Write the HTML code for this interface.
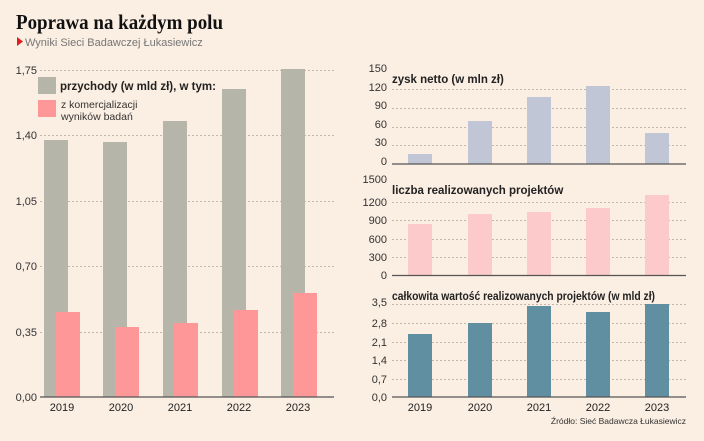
<!DOCTYPE html>
<html><head><meta charset="utf-8"><style>
body{margin:0;background:#fbeee2;}
svg{display:block;font-family:"Liberation Sans",sans-serif;}
</style></head><body>
<svg width="704" height="441" viewBox="0 0 704 441" xmlns="http://www.w3.org/2000/svg">
<rect width="704" height="441" fill="#fbeee2"/>
<text x="16" y="29" font-family="Liberation Serif,serif" font-weight="bold" font-size="21" fill="#111" textLength="207" lengthAdjust="spacingAndGlyphs">Poprawa na każdym polu</text>
<polygon points="17,37 17,46 23,41.5" fill="#e01e1e"/>
<text x="25" y="46" font-size="11" fill="#777">Wyniki Sieci Badawczej Łukasiewicz</text>

<g stroke="#c4b8ae" stroke-dasharray="2,2" stroke-width="1">
<line x1="40" y1="70.5" x2="334" y2="70.5"/><line x1="40" y1="135.5" x2="334" y2="135.5"/>
<line x1="40" y1="201.5" x2="334" y2="201.5"/><line x1="40" y1="266.5" x2="334" y2="266.5"/>
<line x1="40" y1="332.5" x2="334" y2="332.5"/>
</g>
<g font-size="11" fill="#333" text-anchor="end">
<text x="37" y="74">1,75</text><text x="37" y="139">1,40</text><text x="37" y="205">1,05</text>
<text x="37" y="270">0,70</text><text x="37" y="336">0,35</text><text x="37" y="401">0,00</text>
</g>
<g fill="#b6b5aa">
<rect x="44" y="140" width="24" height="257"/><rect x="103" y="142" width="24" height="255"/>
<rect x="163" y="121" width="24" height="276"/><rect x="222" y="89" width="24" height="308"/>
<rect x="281" y="69" width="24" height="328"/>
</g>
<g fill="#fe9797">
<rect x="56" y="312" width="24" height="85"/><rect x="115" y="327" width="24" height="70"/>
<rect x="174" y="323" width="24" height="74"/><rect x="234" y="310" width="24" height="87"/>
<rect x="293" y="293" width="24" height="104"/>
</g>
<line x1="40" y1="397" x2="334" y2="397" stroke="#555" stroke-width="1.2"/>
<g font-size="11" fill="#222" text-anchor="middle">
<text x="62" y="411">2019</text><text x="121" y="411">2020</text><text x="180" y="411">2021</text><text x="239" y="411">2022</text><text x="298" y="411">2023</text>
</g>
<rect x="38" y="77" width="18" height="17" fill="#b6b5aa"/>
<text x="60" y="90" font-size="11.5" font-weight="bold" fill="#222">przychody (w mld zł), w tym:</text>
<rect x="38" y="100" width="18" height="17" fill="#fe9797"/>
<text x="61" y="108" font-size="10.5" fill="#333">z komercjalizacji</text>
<text x="61" y="120" font-size="10.5" fill="#333">wyników badań</text>

<g stroke="#c4b8ae" stroke-dasharray="2,2" stroke-width="1">
<line x1="392" y1="89.5" x2="686" y2="89.5"/><line x1="392" y1="108.5" x2="686" y2="108.5"/><line x1="392" y1="127.5" x2="686" y2="127.5"/><line x1="392" y1="145.5" x2="686" y2="145.5"/>
<line x1="392" y1="202.5" x2="686" y2="202.5"/><line x1="392" y1="220.5" x2="686" y2="220.5"/><line x1="392" y1="239.5" x2="686" y2="239.5"/><line x1="392" y1="257.5" x2="686" y2="257.5"/>
<line x1="392" y1="304.5" x2="686" y2="304.5"/><line x1="392" y1="323.5" x2="686" y2="323.5"/><line x1="392" y1="342.5" x2="686" y2="342.5"/><line x1="392" y1="360.5" x2="686" y2="360.5"/><line x1="392" y1="379.5" x2="686" y2="379.5"/>
</g>
<g font-size="11" fill="#333" text-anchor="end">
<text x="387" y="72">150</text><text x="387" y="91">120</text><text x="387" y="109">90</text><text x="387" y="128">60</text><text x="387" y="146">30</text><text x="387" y="165">0</text>
<text x="387" y="183">1500</text><text x="387" y="206">1200</text><text x="387" y="224">900</text><text x="387" y="243">600</text><text x="387" y="261">300</text><text x="387" y="279">0</text>
<text x="387" y="306">3,5</text><text x="387" y="327">2,8</text><text x="387" y="346">2,1</text><text x="387" y="364">1,4</text><text x="387" y="383">0,7</text><text x="387" y="401">0,0</text>
</g>
<g fill="#c0c6d6">
<rect x="408" y="154" width="24" height="10"/><rect x="468" y="121" width="24" height="43"/><rect x="527" y="97" width="24" height="67"/><rect x="586" y="86" width="24" height="78"/><rect x="645" y="133" width="24" height="31"/>
</g>
<g fill="#fccaca">
<rect x="408" y="224" width="24" height="51"/><rect x="468" y="214" width="24" height="61"/><rect x="527" y="212" width="24" height="63"/><rect x="586" y="208" width="24" height="67"/><rect x="645" y="195" width="24" height="80"/>
</g>
<g fill="#5f8fa0">
<rect x="408" y="334" width="24" height="63"/><rect x="468" y="323" width="24" height="74"/><rect x="527" y="306" width="24" height="91"/><rect x="586" y="312" width="24" height="85"/><rect x="645" y="304" width="24" height="93"/>
</g>
<g stroke="#555" stroke-width="1.2">
<line x1="392" y1="164" x2="686" y2="164"/><line x1="392" y1="275.5" x2="686" y2="275.5"/><line x1="392" y1="397" x2="686" y2="397"/>
</g>
<g font-size="11.5" font-weight="bold" fill="#222">
<text x="392" y="83">zysk netto (w mln zł)</text>
<text x="392" y="194">liczba realizowanych projektów</text>
<text x="392" y="300" textLength="263" lengthAdjust="spacingAndGlyphs">całkowita wartość realizowanych projektów (w mld zł)</text>
</g>
<g font-size="11" fill="#222" text-anchor="middle">
<text x="420" y="411">2019</text><text x="480" y="411">2020</text><text x="539" y="411">2021</text><text x="598" y="411">2022</text><text x="657" y="411">2023</text>
</g>
<text x="686" y="424" font-size="8.5" fill="#333" text-anchor="end">Źródło: Sieć Badawcza Łukasiewicz</text>
</svg>
</body></html>
